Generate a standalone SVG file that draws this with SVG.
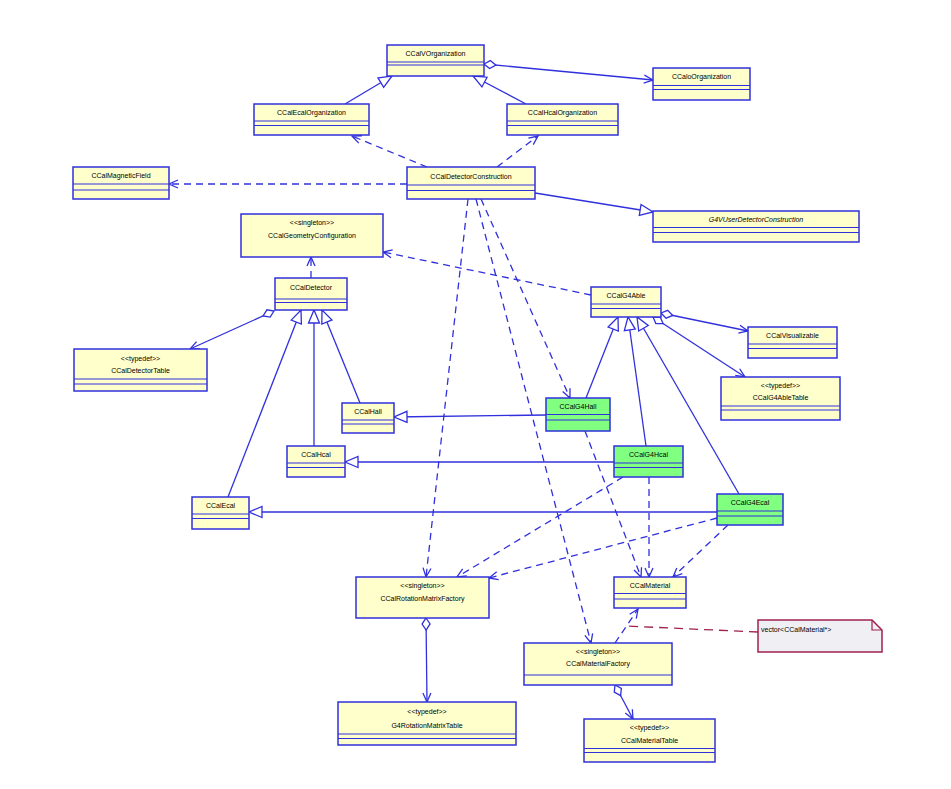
<svg xmlns="http://www.w3.org/2000/svg" width="951" height="789" viewBox="0 0 951 789">
<style>
.box{fill:#ffffcc;stroke:#3030dd;stroke-width:1.5}
.g4 .box{fill:#80ff80}
.sep{stroke:#3030dd;stroke-width:1.2}
.t{font-family:"Liberation Sans",Arial,sans-serif;font-size:7px;text-anchor:middle;fill:#000}
.it{font-style:italic}
.c{fill:none;stroke:#3030dd;stroke-width:1.3}
.dash{stroke-dasharray:7,5}
.gen{marker-end:url(#tri)}
.dep{marker-end:url(#open)}
.agg{marker-start:url(#dia);marker-end:url(#open)}
.note{fill:#f0f0f4;stroke:#a02050;stroke-width:1.5}
.nlink{fill:none;stroke:#a02050;stroke-width:1.3;stroke-dasharray:9,6}
</style>
<defs>
<marker id="tri" markerUnits="userSpaceOnUse" markerWidth="16" markerHeight="14" refX="13" refY="5.5" orient="auto" overflow="visible"><path d="M0,0 L13,5.5 L0,11 Z" fill="#fff" stroke="#3030dd" stroke-width="1.3"/></marker>
<marker id="open" markerUnits="userSpaceOnUse" markerWidth="12" markerHeight="10" refX="9" refY="4" orient="auto" overflow="visible"><path d="M0,0 L9,4 L0,8" fill="none" stroke="#3030dd" stroke-width="1.3"/></marker>
<marker id="dia" markerUnits="userSpaceOnUse" markerWidth="14" markerHeight="10" refX="0" refY="4" orient="auto" overflow="visible"><path d="M0,4 L6,0 L12,4 L6,8 Z" fill="#fff" stroke="#3030dd" stroke-width="1.3"/></marker>
</defs>
<rect width="951" height="789" fill="#fff"/>

<g id="connectors">
<!-- generalizations -->
<line class="c gen" x1="345" y1="104" x2="392" y2="76"/>
<line class="c gen" x1="526" y1="104" x2="473" y2="76"/>
<line class="c gen" x1="535" y1="193" x2="653" y2="212"/>
<line class="c gen" x1="360" y1="403" x2="322" y2="310"/>
<line class="c gen" x1="314" y1="446" x2="314" y2="310"/>
<line class="c gen" x1="228" y1="497" x2="301" y2="310"/>
<line class="c gen" x1="546" y1="415" x2="394" y2="417"/>
<line class="c gen" x1="614" y1="462" x2="345" y2="462"/>
<line class="c gen" x1="717" y1="512" x2="249" y2="512"/>
<line class="c gen" x1="586" y1="398" x2="618" y2="317"/>
<line class="c gen" x1="646" y1="446" x2="628" y2="317"/>
<line class="c gen" x1="739" y1="494" x2="637" y2="317"/>
<!-- dependencies -->
<line class="c dash dep" x1="427" y1="167" x2="352" y2="136"/>
<line class="c dash dep" x1="497" y1="167" x2="538" y2="136"/>
<line class="c dash dep" x1="407" y1="184" x2="169" y2="184"/>
<line class="c dash dep" x1="591" y1="295" x2="383" y2="252"/>
<line class="c dash dep" x1="311" y1="278" x2="311" y2="257"/>
<line class="c dash dep" x1="468" y1="199" x2="426" y2="577"/>
<line class="c dash dep" x1="476" y1="199" x2="591" y2="643"/>
<line class="c dash dep" x1="481" y1="199" x2="570" y2="398"/>
<line class="c dash dep" x1="585" y1="431" x2="641" y2="577"/>
<line class="c dash dep" x1="649" y1="477" x2="649" y2="577"/>
<line class="c dash dep" x1="728" y1="525" x2="673" y2="577"/>
<line class="c dash dep" x1="623" y1="477" x2="457" y2="577"/>
<line class="c dash dep" x1="717" y1="518" x2="489" y2="578"/>
<line class="c dash dep" x1="615" y1="643" x2="638" y2="609"/>
<!-- aggregations -->
<line class="c agg" x1="484" y1="64" x2="653" y2="80"/>
<line class="c agg" x1="274" y1="311" x2="190" y2="349"/>
<line class="c agg" x1="661" y1="313" x2="748" y2="331"/>
<line class="c agg" x1="653" y1="317" x2="745" y2="377"/>
<line class="c agg" x1="426" y1="618" x2="427" y2="702"/>
<line class="c agg" x1="615" y1="685" x2="633" y2="719"/>
<!-- note link -->
<line class="nlink" x1="758" y1="632" x2="626" y2="626"/>
</g>

<g id="n-CCalVOrganization"><rect class="box" x="387" y="45" width="97" height="31"/><line class="sep" x1="387" y1="62" x2="484" y2="62"/><line class="sep" x1="387" y1="65" x2="484" y2="65"/><text class="t" x="435.5" y="56">CCalVOrganization</text></g>
<g id="n-CCaloOrganization"><rect class="box" x="653" y="68" width="97" height="32"/><line class="sep" x1="653" y1="85.5" x2="750" y2="85.5"/><line class="sep" x1="653" y1="89.5" x2="750" y2="89.5"/><text class="t" x="701.5" y="79">CCaloOrganization</text></g>
<g id="n-CCalEcalOrganization"><rect class="box" x="254" y="104" width="115" height="31"/><line class="sep" x1="254" y1="121" x2="369" y2="121"/><line class="sep" x1="254" y1="125.5" x2="369" y2="125.5"/><text class="t" x="311.5" y="115">CCalEcalOrganization</text></g>
<g id="n-CCalHcalOrganization"><rect class="box" x="507" y="104" width="111" height="31"/><line class="sep" x1="507" y1="121" x2="618" y2="121"/><line class="sep" x1="507" y1="125.5" x2="618" y2="125.5"/><text class="t" x="562.5" y="115">CCalHcalOrganization</text></g>
<g id="n-CCalMagneticField"><rect class="box" x="73" y="167" width="96" height="32"/><line class="sep" x1="73" y1="184" x2="169" y2="184"/><line class="sep" x1="73" y1="190" x2="169" y2="190"/><text class="t" x="121" y="178">CCalMagneticField</text></g>
<g id="n-CCalDetectorConstruction"><rect class="box" x="407" y="167" width="128" height="32"/><line class="sep" x1="407" y1="185" x2="535" y2="185"/><line class="sep" x1="407" y1="190.5" x2="535" y2="190.5"/><text class="t" x="471" y="178.5">CCalDetectorConstruction</text></g>
<g id="n-G4VUserDetectorConstruction"><rect class="box" x="653" y="211" width="206" height="31"/><line class="sep" x1="653" y1="227.5" x2="859" y2="227.5"/><line class="sep" x1="653" y1="232.5" x2="859" y2="232.5"/><text class="t it" x="756" y="222">G4VUserDetectorConstruction</text></g>
<g id="n-CCalGeometryConfiguration"><rect class="box" x="241" y="214" width="142" height="43"/><text class="t" x="312" y="224.5">&lt;&lt;singleton&gt;&gt;</text><text class="t" x="312" y="237.5">CCalGeometryConfiguration</text></g>
<g id="n-CCalDetector"><rect class="box" x="275" y="278" width="72" height="32"/><line class="sep" x1="275" y1="299" x2="347" y2="299"/><line class="sep" x1="275" y1="302.5" x2="347" y2="302.5"/><text class="t" x="311" y="290">CCalDetector</text></g>
<g id="n-CCalDetectorTable"><rect class="box" x="74" y="349" width="133" height="42"/><line class="sep" x1="74" y1="379" x2="207" y2="379"/><line class="sep" x1="74" y1="384" x2="207" y2="384"/><text class="t" x="140.5" y="361">&lt;&lt;typedef&gt;&gt;</text><text class="t" x="140.5" y="372.5">CCalDetectorTable</text></g>
<g id="n-CCalHall"><rect class="box" x="342" y="403" width="52" height="30"/><line class="sep" x1="342" y1="420" x2="394" y2="420"/><line class="sep" x1="342" y1="424" x2="394" y2="424"/><text class="t" x="368" y="413.5">CCalHall</text></g>
<g id="n-CCalHcal"><rect class="box" x="287" y="446" width="58" height="31"/><line class="sep" x1="287" y1="463" x2="345" y2="463"/><line class="sep" x1="287" y1="467.5" x2="345" y2="467.5"/><text class="t" x="316" y="456.5">CCalHcal</text></g>
<g id="n-CCalEcal"><rect class="box" x="192" y="497" width="57" height="32"/><line class="sep" x1="192" y1="514" x2="249" y2="514"/><line class="sep" x1="192" y1="518.5" x2="249" y2="518.5"/><text class="t" x="220.5" y="508">CCalEcal</text></g>
<g id="n-CCalG4Able"><rect class="box" x="591" y="287" width="70" height="30"/><line class="sep" x1="591" y1="304" x2="661" y2="304"/><line class="sep" x1="591" y1="308.5" x2="661" y2="308.5"/><text class="t" x="626" y="298">CCalG4Able</text></g>
<g id="n-CCalVisualizable"><rect class="box" x="748" y="327" width="89" height="31"/><line class="sep" x1="748" y1="344" x2="837" y2="344"/><line class="sep" x1="748" y1="348.5" x2="837" y2="348.5"/><text class="t" x="792.5" y="338">CCalVisualizable</text></g>
<g id="n-CCalG4AbleTable"><rect class="box" x="721" y="377" width="119" height="43"/><line class="sep" x1="721" y1="406" x2="840" y2="406"/><line class="sep" x1="721" y1="410" x2="840" y2="410"/><text class="t" x="780.5" y="388">&lt;&lt;typedef&gt;&gt;</text><text class="t" x="780.5" y="400">CCalG4AbleTable</text></g>
<g id="n-CCalG4Hall" class="g4"><rect class="box" x="546" y="398" width="64" height="33"/><line class="sep" x1="546" y1="414.5" x2="610" y2="414.5"/><line class="sep" x1="546" y1="420" x2="610" y2="420"/><text class="t" x="578" y="409">CCalG4Hall</text></g>
<g id="n-CCalG4Hcal" class="g4"><rect class="box" x="614" y="446" width="69" height="31"/><line class="sep" x1="614" y1="463" x2="683" y2="463"/><line class="sep" x1="614" y1="467.5" x2="683" y2="467.5"/><text class="t" x="648.5" y="456.5">CCalG4Hcal</text></g>
<g id="n-CCalG4Ecal" class="g4"><rect class="box" x="717" y="494" width="66" height="31"/><line class="sep" x1="717" y1="511" x2="783" y2="511"/><line class="sep" x1="717" y1="516" x2="783" y2="516"/><text class="t" x="750" y="504.5">CCalG4Ecal</text></g>
<g id="n-CCalRotationMatrixFactory"><rect class="box" x="356" y="577" width="133" height="41"/><text class="t" x="422.5" y="587.5">&lt;&lt;singleton&gt;&gt;</text><text class="t" x="422.5" y="600.5">CCalRotationMatrixFactory</text></g>
<g id="n-CCalMaterial"><rect class="box" x="614" y="577" width="72" height="31"/><line class="sep" x1="614" y1="593.5" x2="686" y2="593.5"/><line class="sep" x1="614" y1="599" x2="686" y2="599"/><text class="t" x="650" y="588">CCalMaterial</text></g>
<g id="n-CCalMaterialFactory"><rect class="box" x="524" y="643" width="148" height="42"/><line class="sep" x1="524" y1="675" x2="672" y2="675"/><text class="t" x="598" y="654">&lt;&lt;singleton&gt;&gt;</text><text class="t" x="598" y="666">CCalMaterialFactory</text></g>
<g id="n-G4RotationMatrixTable"><rect class="box" x="338" y="702" width="178" height="43"/><line class="sep" x1="338" y1="734" x2="516" y2="734"/><line class="sep" x1="338" y1="738.5" x2="516" y2="738.5"/><text class="t" x="427" y="714">&lt;&lt;typedef&gt;&gt;</text><text class="t" x="427" y="727.5">G4RotationMatrixTable</text></g>
<g id="n-CCalMaterialTable"><rect class="box" x="584" y="719" width="131" height="43"/><line class="sep" x1="584" y1="748.5" x2="715" y2="748.5"/><line class="sep" x1="584" y1="752.5" x2="715" y2="752.5"/><text class="t" x="649.5" y="730">&lt;&lt;typedef&gt;&gt;</text><text class="t" x="649.5" y="743">CCalMaterialTable</text></g>
<g id="n-note"><path class="note" d="M758,620 H872 L882,630 V652 H758 Z"/><path d="M872,620 V630 H882" fill="none" stroke="#a02050" stroke-width="1.2"/><text class="t" x="761" y="632" style="text-anchor:start">vector&lt;CCalMaterial*&gt;</text></g>
</svg>
